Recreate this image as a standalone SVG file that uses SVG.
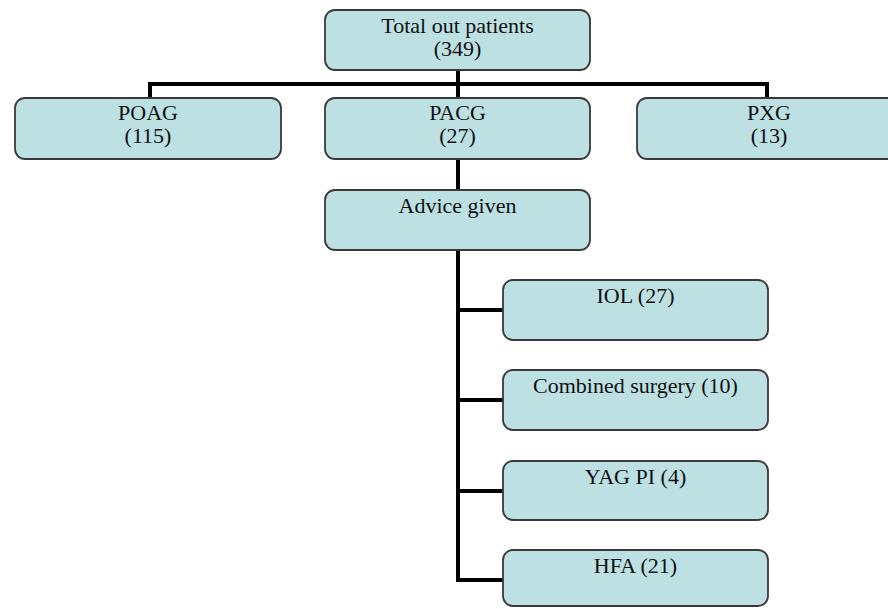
<svg xmlns="http://www.w3.org/2000/svg" width="888" height="609" viewBox="0 0 888 609">
<style>
.box{fill:#BDE0E3;stroke:#3a3a3a;stroke-width:1.8}
.t{font-family:"Liberation Serif","Times New Roman",serif;font-size:22px;fill:#111;text-anchor:middle}
.c{stroke:#000;stroke-width:4;fill:none}
</style>
<rect width="888" height="609" fill="#fff"/>
<g id="connectors">
<line class="c" x1="458" y1="70" x2="458" y2="98"/>
<polyline class="c" points="150,98 150,84 767,84 767,98"/>
<line class="c" x1="458" y1="159" x2="458" y2="190"/>
<polyline class="c" points="458,250 458,580 503,580"/>
<line class="c" x1="458" y1="310" x2="503" y2="310"/>
<line class="c" x1="458" y1="400" x2="503" y2="400"/>
<line class="c" x1="458" y1="491" x2="503" y2="491"/>
</g>
<g id="total">
<rect class="box" x="325" y="10" width="265" height="60" rx="10"/>
<text class="t" x="457.5" y="33">Total out patients</text>
<text class="t" x="457.5" y="56">(349)</text>
</g>
<g id="poag">
<rect class="box" x="15" y="98" width="266" height="61" rx="10"/>
<text class="t" x="148" y="120">POAG</text>
<text class="t" x="148" y="143">(115)</text>
</g>
<g id="pacg">
<rect class="box" x="325" y="98" width="265" height="61" rx="10"/>
<text class="t" x="457.5" y="120">PACG</text>
<text class="t" x="457.5" y="143">(27)</text>
</g>
<g id="pxg">
<rect class="box" x="637" y="98" width="265" height="61" rx="10"/>
<text class="t" x="769" y="120">PXG</text>
<text class="t" x="769" y="143">(13)</text>
</g>
<g id="advice">
<rect class="box" x="325" y="190" width="265" height="60" rx="10"/>
<text class="t" x="457.5" y="213">Advice given</text>
</g>
<g id="iol">
<rect class="box" x="503" y="280" width="265" height="60" rx="10"/>
<text class="t" x="635.5" y="303">IOL (27)</text>
</g>
<g id="combined">
<rect class="box" x="503" y="370" width="265" height="60" rx="10"/>
<text class="t" x="635.5" y="393">Combined surgery (10)</text>
</g>
<g id="yag">
<rect class="box" x="503" y="461" width="265" height="59" rx="10"/>
<text class="t" x="635.5" y="484">YAG PI (4)</text>
</g>
<g id="hfa">
<rect class="box" x="503" y="550" width="265" height="56" rx="10"/>
<text class="t" x="635.5" y="573">HFA (21)</text>
</g>
</svg>
